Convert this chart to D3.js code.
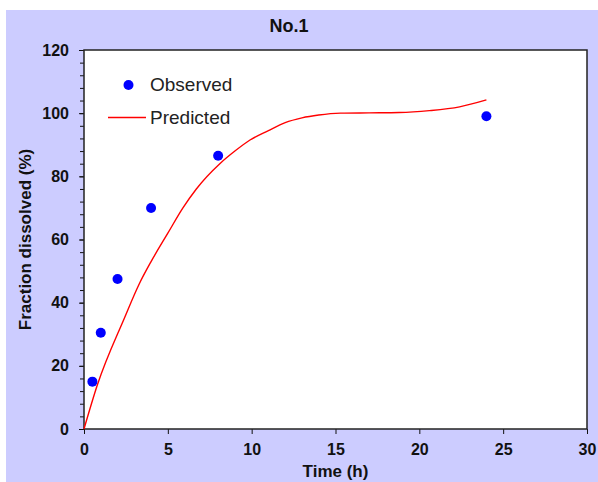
<!DOCTYPE html>
<html>
<head>
<meta charset="utf-8">
<script src="https://cdn.jsdelivr.net/npm/d3@7"></script>
<style>
  body { margin: 0; background: #fff; }
  svg { display: block; font-family: Arial, "Liberation Sans", sans-serif; }
</style>
</head>
<body>
<svg width="598" height="482"></svg>
<script>
// observed data points
const obsTime = [0.5, 1, 2, 4, 8, 24];
const obsFrac = [15, 30.5, 47.5, 70, 86.5, 99];

// predicted curve
const predTime = [0, 0.8, 2.4, 3.3, 4, 5, 5.9, 6.7, 8.1, 9, 9.9, 11, 12, 13, 14, 15.3, 17, 18.8, 20.6, 22.4, 24];
const predFrac = [0, 14, 35, 46, 53, 62, 70, 76, 84, 88, 91.5, 94.5, 97, 98.5, 99.4, 100, 100.1, 100.2, 100.8, 102, 104.2];

const xTicks = [0, 5, 10, 15, 20, 25, 30];
const yTicks = [0, 20, 40, 60, 80, 100, 120];
const yMinor = d3.range(0, 121, 4);

const title = "No.1";
const xTitle = "Time (h)";
const yTitle = "Fraction dissolved (%)";

const svg = d3.select("svg");
const margin = { top: 50, right: 11, bottom: 53, left: 84 };
const W = 598, H = 482;

// background
svg.append("rect")
    .attr("x", 6).attr("y", 10)
    .attr("width", W - 6).attr("height", H - 10)
    .attr("fill", "#ccccff");

const x = d3.scaleLinear().domain([0, 30]).range([margin.left, W - margin.right]);
const y = d3.scaleLinear().domain([0, 120]).range([H - margin.bottom, margin.top]);

svg.append("rect")
    .attr("x", x(0)).attr("y", y(120))
    .attr("width", x(30) - x(0)).attr("height", y(0) - y(120))
    .attr("fill", "#fff");

// minor y ticks
svg.append("g")
    .attr("transform", `translate(${x(0)},0)`)
    .call(d3.axisLeft(y).tickValues(yMinor).tickSize(4).tickFormat(""))
    .call(g => g.select(".domain").remove())
    .selectAll("line").attr("stroke", "#111");

// y axis
svg.append("g")
    .attr("transform", `translate(${x(0)},0)`)
    .call(d3.axisLeft(y).tickValues(yTicks).tickSize(5).tickPadding(10))
    .call(g => g.select(".domain").remove())
    .call(g => g.selectAll("line").attr("stroke", "#111"))
    .call(g => g.selectAll("text")
        .attr("fill", "#111")
        .style("font-size", "16px")
        .style("font-weight", "bold"));

// x axis
svg.append("g")
    .attr("transform", `translate(0,${y(0)})`)
    .call(d3.axisBottom(x).tickValues(xTicks).tickSize(5).tickPadding(10))
    .call(g => g.select(".domain").remove())
    .call(g => g.selectAll("line").attr("stroke", "#111"))
    .call(g => g.selectAll("text")
        .attr("fill", "#111")
        .style("font-size", "16px")
        .style("font-weight", "bold"));

// frame
svg.append("rect")
    .attr("x", x(0)).attr("y", y(120))
    .attr("width", x(30) - x(0)).attr("height", y(0) - y(120))
    .attr("fill", "none")
    .attr("stroke", "#222")
    .attr("stroke-width", 1.5);

// predicted line
const pred = predTime.map((t, i) => [t, predFrac[i]]);
svg.append("path")
    .datum(pred)
    .attr("fill", "none")
    .attr("stroke", "#ff0000")
    .attr("stroke-width", 1.4)
    .attr("d", d3.line().x(d => x(d[0])).y(d => y(d[1])).curve(d3.curveMonotoneX));

// observed points
svg.append("g")
    .attr("fill", "#0000ff")
  .selectAll("circle")
  .data(obsTime.map((t, i) => [t, obsFrac[i]]))
  .enter().append("circle")
    .attr("cx", d => x(d[0]))
    .attr("cy", d => y(d[1]))
    .attr("r", 5);

// legend
const leg = svg.append("g");
leg.append("circle").attr("cx", 128.5).attr("cy", 85).attr("r", 5).attr("fill", "#0000ff");
leg.append("line")
    .attr("x1", 108).attr("x2", 146).attr("y1", 117.5).attr("y2", 117.5)
    .attr("stroke", "#ff0000").attr("stroke-width", 1.4);
leg.append("text").attr("x", 150).attr("y", 91)
    .attr("fill", "#222").style("font-size", "19px").text("Observed");
leg.append("text").attr("x", 150).attr("y", 123.5)
    .attr("fill", "#222").style("font-size", "19px").text("Predicted");

// titles
svg.append("text")
    .attr("x", 289).attr("y", 32)
    .attr("text-anchor", "middle")
    .style("font-size", "18px").style("font-weight", "bold")
    .attr("fill", "#111")
    .text(title);

svg.append("text")
    .attr("x", (x(0) + x(30)) / 2).attr("y", 477)
    .attr("text-anchor", "middle")
    .style("font-size", "17px").style("font-weight", "bold")
    .attr("fill", "#111")
    .text(xTitle);

svg.append("text")
    .attr("transform", `translate(31,${(y(0) + y(120)) / 2}) rotate(-90)`)
    .attr("text-anchor", "middle")
    .style("font-size", "17px").style("font-weight", "bold")
    .attr("fill", "#111")
    .text(yTitle);
</script>
</body>
</html>
